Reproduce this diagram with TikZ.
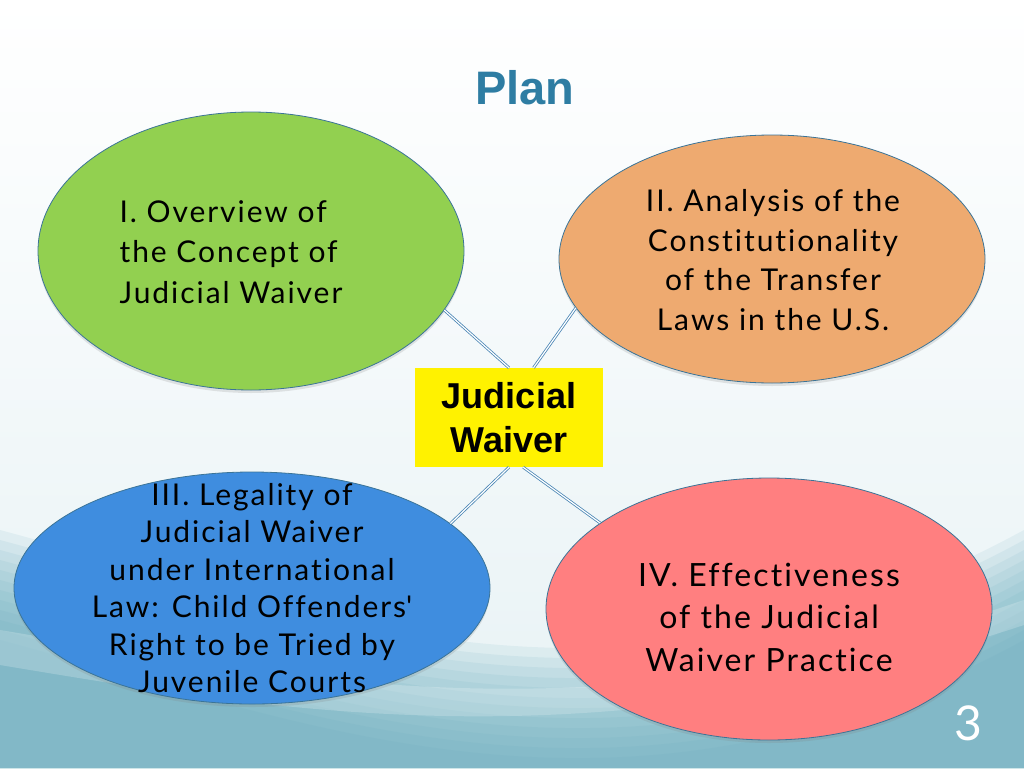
\documentclass[tikz,border=0pt]{standalone}
\usepackage{fontspec}
\setmainfont{Lato}[LetterSpace=6.5, Ligatures={NoCommon}]
\newfontfamily\headfont{Liberation Sans}
\usetikzlibrary{shapes.geometric, shadows, calc}
\definecolor{plantitle}{HTML}{2E7DA3}
\definecolor{greenfill}{HTML}{92D050}
\definecolor{orangefill}{HTML}{EEAA70}
\definecolor{bluefill}{HTML}{3F8DDF}
\definecolor{redfill}{HTML}{FF7F80}
\definecolor{rim}{HTML}{3B7497}
\definecolor{spoke}{HTML}{4A86B5}
\definecolor{waveteal}{HTML}{5FA7BA}
\tikzset{
    bubble/.style={ellipse, draw=rim, line width=0.8pt, inner sep=0pt,
        drop shadow={shadow xshift=0pt, shadow yshift=-3pt, opacity=0.2}},
    bubbletext/.style={align=center, inner sep=0pt, text=black},
    hub/.style={rectangle, fill=yellow, minimum width=188pt, minimum height=99pt,
        inner sep=0pt, align=center},
    spokeline/.style={draw=spoke, double=white, double distance=1.2pt, line width=0.8pt}
}

\begin{document}
\begin{tikzpicture}[x=1pt, y=-1pt]
    \useasboundingbox (0,0) rectangle (1024,768);
    % background
    \fill[top color=white, bottom color=waveteal!15!white] (0,0) rectangle (1024,768);
    \foreach \dy in {0,10,...,110} {
        \fill[waveteal, opacity=0.1]
            (0,530+\dy) .. controls (300,610+\dy) and (620,750+\dy) .. (1024,530+\dy)
            -- (1024,768) -- (0,768) -- cycle;
    }
    \fill[white, opacity=0.2]
        (0,630) .. controls (300,680) and (600,745) .. (1024,600)
        -- (1024,625) .. controls (600,765) and (300,715) .. (0,665) -- cycle;

    \node[font=\headfont\bfseries\fontsize{47}{56}\selectfont, text=plantitle, anchor=base]
        (title) at (525,104) {Plan};

    \node[bubble, fill=greenfill, minimum width=426pt, minimum height=278pt] (green) at (251,251) {};
    \node[bubble, fill=orangefill, minimum width=426pt, minimum height=248pt] (orange) at (772,259) {};
    \node[bubble, fill=bluefill, minimum width=476pt, minimum height=232pt] (blue) at (252,588) {};
    \node[bubble, fill=redfill, minimum width=446pt, minimum height=262pt] (red) at (769,609) {};

    \node[bubbletext, align=left, font=\fontsize{30}{40.5}\selectfont]
        (greentext) at ($(green)+(-20,1)$) {I. Overview of\\the Concept of\\Judicial Waiver};
    \node[bubbletext, font=\fontsize{30}{39.5}\selectfont]
        (orangetext) at ($(orange)+(1,1)$) {II. Analysis of the\\Constitutionality\\of the Transfer\\Laws in the U.S.};
    \node[bubbletext, font=\fontsize{30}{37.5}\selectfont]
        (bluetext) at ($(blue)+(0,0)$) {III. Legality of\\Judicial Waiver\\under International\\Law: Child Offenders\textquotesingle\\Right to be Tried by\\Juvenile Courts};
    \node[bubbletext, font=\fontsize{32}{42.5}\selectfont]
        (redtext) at ($(red)+(0,8)$) {IV. Effectiveness\\of the Judicial\\Waiver Practice};

    \node[hub, font=\headfont\bfseries\fontsize{36}{44}\selectfont] (hub) at (509,417.5) {Judicial\\Waiver};

    \draw[spokeline] (green.-17.6) -- (hub.north);
    \draw[spokeline] (orange.-166.3) -- ($(hub.north)!0.26!(hub.north east)$);
    \draw[spokeline] (blue.18.8) -- (hub.south);
    \draw[spokeline] (red.153.2) -- ($(hub.south)!0.15!(hub.south east)$);

    \node[anchor=base, text=white, font=\fontsize{48}{56}\selectfont] (pagenum) at (968,740) {3};
\end{tikzpicture}
\end{document}
